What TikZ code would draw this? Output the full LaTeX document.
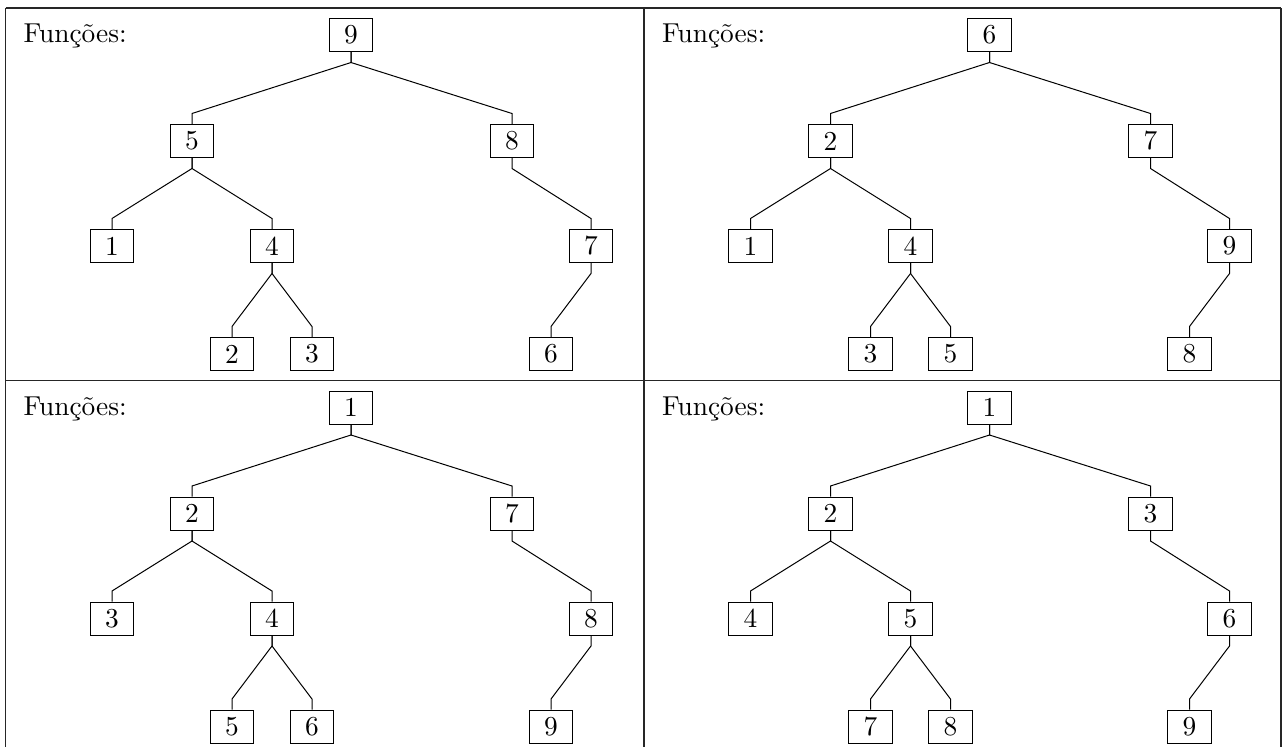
\documentclass[tikz,border=0pt]{standalone}
\newcommand\tpfx{}
\newcommand\drawtree[9]{%
  \node[vbox] (\tpfx r) at (351,35) {#1};
  \node[vbox] (\tpfx a) at (192,141) {#2};
  \node[vbox] (\tpfx b) at (512,141) {#3};
  \node[vbox] (\tpfx c) at (112,246) {#4};
  \node[vbox] (\tpfx d) at (272,246) {#5};
  \node[vbox] (\tpfx e) at (591,246) {#6};
  \node[vbox] (\tpfx f) at (232,354) {#7};
  \node[vbox] (\tpfx g) at (312,354) {#8};
  \node[vbox] (\tpfx h) at (551,354) {#9};
  \node[celltitle] (\tpfx t) at (23,42.5) {Funções:};
  \foreach \p/\c in {r/a,r/b,a/c,a/d,b/e,d/f,d/g,e/h}{
    \draw[link] (\tpfx\p.south) -- ++(0,10.5) -- ([yshift=4.2pt]\tpfx\c.north) -- (\tpfx\c.north);
  }%
}
\begin{document}
\begin{tikzpicture}[x=0.4pt,y=-0.4pt,
  font=\fontsize{10.95}{13.6}\selectfont,
  vbox/.style={draw, line width=0.4pt, minimum width=17.4pt, minimum height=13.2pt, inner sep=0pt},
  link/.style={line width=0.4pt},
  rule/.style={line width=0.5pt, draw=black!85},
  celltitle/.style={anchor=base west, inner sep=0pt}]
\useasboundingbox (0,0) rectangle (1282,747);
% table rules
\coordinate (tl) at (5.5,8);
\coordinate (tr) at (1281,8);
\coordinate (ml) at (5.5,380.5);
\coordinate (mr) at (1281,380.5);
\coordinate (bl) at (5.5,747);
\coordinate (br) at (1281,747);
\coordinate (tm) at (644,8);
\coordinate (bm) at (644,747);
\draw[rule] (tl) -- (tr);
\draw[rule] (ml) -- (mr);
\draw[rule] (tl) -- (bl);
\draw[rule] (tr) -- (br);
\draw[rule] (tm) -- (bm);
% trees
\begin{scope}
  \renewcommand\tpfx{A}\drawtree{9}{5}{8}{1}{4}{7}{2}{3}{6}
\end{scope}
\begin{scope}[shift={(638.5,0)}]
  \renewcommand\tpfx{B}\drawtree{6}{2}{7}{1}{4}{9}{3}{5}{8}
\end{scope}
\begin{scope}[shift={(0,372.5)}]
  \renewcommand\tpfx{C}\drawtree{1}{2}{7}{3}{4}{8}{5}{6}{9}
\end{scope}
\begin{scope}[shift={(638.5,372.5)}]
  \renewcommand\tpfx{D}\drawtree{1}{2}{3}{4}{5}{6}{7}{8}{9}
\end{scope}
\end{tikzpicture}
\end{document}
